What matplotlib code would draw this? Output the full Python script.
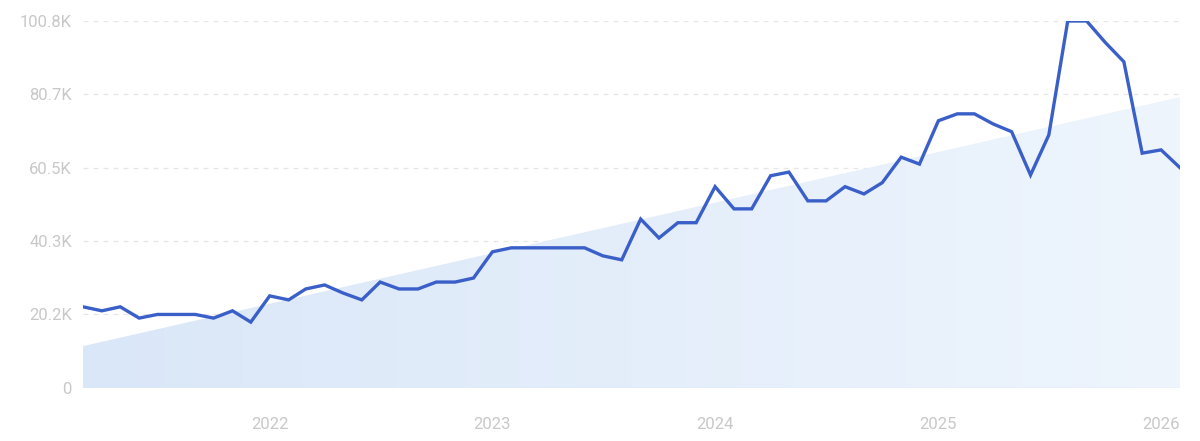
import numpy as np
import pandas as pd
import matplotlib.pyplot as plt
import matplotlib.dates as mdates
from matplotlib.colors import LinearSegmentedColormap
from matplotlib.patches import Polygon

# monthly values (thousands), Mar 2021 - Feb 2026
months = pd.date_range('2021-03-01', periods=60, freq='MS')
values = [22.3, 21.2, 22.3, 19.2, 20.2, 20.2, 20.2, 19.2, 21.2, 18.1,
          25.3, 24.2, 27.2, 28.3, 26.1, 24.2, 29.1, 27.2, 27.2, 29.1,
          29.1, 30.2, 37.4, 38.5, 38.5, 38.5, 38.5, 38.5, 36.3, 35.2,
          46.4, 41.2, 45.4, 45.4, 55.3, 49.2, 49.2, 58.3, 59.3, 51.4,
          51.4, 55.3, 53.3, 56.4, 63.4, 61.5, 73.4, 75.3, 75.3, 72.5,
          70.4, 58.5, 69.5, 100.8, 100.8, 95.0, 89.6, 64.5, 65.4, 60.5]
# trend area: value at first and last month
trend = [11.5, 79.9]

yticks = [0, 20.2, 40.3, 60.5, 80.7, 100.8]
ylabels = ['0', '20.2K', '40.3K', '60.5K', '80.7K', '100.8K']
years = ['2022', '2023', '2024', '2025', '2026']

plt.rcParams['font.family'] = ['Roboto', 'DejaVu Sans']

fig = plt.figure(figsize=(12, 4.41), dpi=100)
ax = fig.add_axes([83/1200, 53/441, 1097/1200, 367/441])

x = mdates.date2num(months)
x0, x1 = x[0], x[-1]

# gradient trend area
poly = Polygon([(x0, 0), (x0, trend[0]), (x1, trend[1]), (x1, 0)],
               closed=True, facecolor='none', edgecolor='none')
ax.add_patch(poly)
cmap = LinearSegmentedColormap.from_list('fill', ['#dae7f8', '#eef5fd'])
grad = np.linspace(0, 1, 256).reshape(1, -1)
img = ax.imshow(grad, cmap=cmap, aspect='auto', extent=[x0, x1, 0, trend[1]],
                origin='lower', zorder=1)
img.set_clip_path(poly)

# gridlines
for t in yticks[1:]:
    ax.axhline(t, color='#e6e6e6', lw=0.9, ls=(0, (4, 4)), zorder=0)
ax.axhline(0, color='#dbe6f6', lw=1, zorder=1)

ax.plot(x, values, color='#3a5fc9', lw=2.4, zorder=3, solid_joinstyle='miter')

ax.set_xlim(x0, x1)
ax.set_ylim(0, 100.8)
ax.set_yticks(yticks)
ax.set_yticklabels(ylabels)
ax.set_xticks([mdates.date2num(pd.Timestamp(y + '-01-01')) for y in years])
ax.set_xticklabels(years)

ax.tick_params(axis='both', length=0, labelsize=12, labelcolor='#c8c8c8')
ax.tick_params(axis='y', pad=8)
ax.tick_params(axis='x', pad=21)
for s in ax.spines.values():
    s.set_visible(False)

fig.savefig('out.png', dpi=100)
